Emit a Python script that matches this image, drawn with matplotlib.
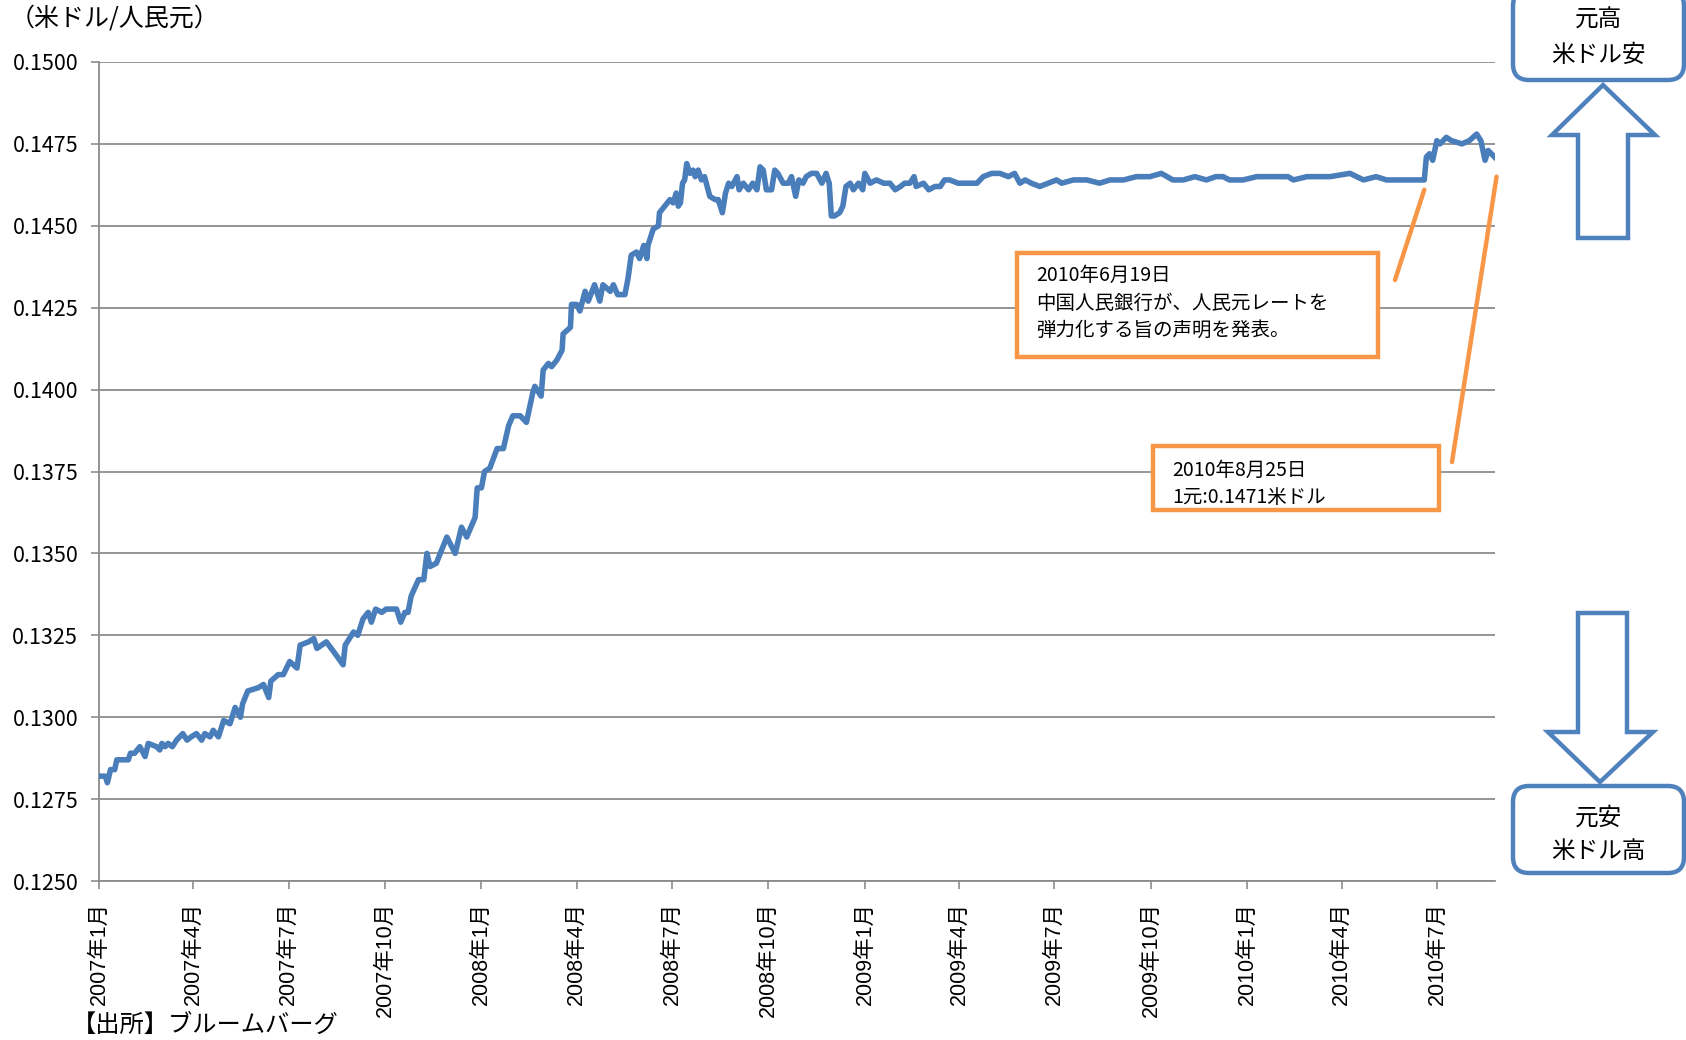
import numpy as np
import matplotlib
matplotlib.use("Agg")
import matplotlib.pyplot as plt
import matplotlib.dates as mdates
from matplotlib.patches import Rectangle, FancyBboxPatch, Polygon
from matplotlib.transforms import IdentityTransform

plt.rcParams['font.family'] = ['Noto Sans CJK JP', 'DejaVu Sans']

# USD per CNY, days counted from 2007-01-01
start = np.datetime64('2007-01-01')
day_offset = [
    0, 6, 8, 11, 15, 17, 20, 25, 28, 30,
    34, 39, 44, 47, 55, 58, 60, 63, 66, 70,
    74, 80, 84, 88, 93, 98, 101, 106, 109, 114,
    119, 125, 130, 135, 137, 142, 152, 157, 162, 164,
    171, 176, 182, 189, 192, 200, 205, 208, 217, 224,
    233, 235, 243, 247, 252, 257, 260, 264, 270, 274,
    281, 284, 288, 292, 295, 298, 305, 310, 313, 316,
    322, 332, 340, 346, 351, 359, 361, 365, 368, 373,
    380, 386, 391, 395, 402, 408, 414, 416, 422, 424,
    429, 432, 437, 442, 443, 450, 451, 456, 459, 464,
    467, 473, 478, 481, 488, 491, 495, 499, 502, 505,
    508, 513, 516, 520, 523, 524, 529, 534, 535, 540,
    545, 548, 551, 553, 555, 557, 559, 561, 564, 567,
    569, 572, 575, 578, 583, 588, 591, 595, 598, 601,
    604, 609, 611, 615, 620, 624, 628, 631, 634, 637,
    642, 645, 648, 653, 658, 661, 665, 668, 672, 675,
    680, 685, 690, 694, 697, 699, 702, 707, 710, 713,
    717, 720, 725, 729, 731, 736, 742, 749, 755, 760,
    765, 769, 774, 778, 780, 787, 792, 798, 803, 807,
    812, 820, 828, 838, 844, 852, 860, 868, 874, 879,
    884, 890, 898, 906, 914, 919, 930, 943, 955, 965,
    978, 990, 1003, 1014, 1025, 1035, 1046, 1057, 1066, 1073,
    1079, 1092, 1105, 1121, 1135, 1140, 1153, 1175, 1194, 1207,
    1219, 1229, 1243, 1253, 1262, 1265, 1267, 1270, 1273, 1277,
    1280, 1286, 1291, 1301, 1308, 1315, 1319, 1323, 1326, 1329,
    1332,
]
rate = [
    0.1282, 0.1282, 0.1280, 0.1284, 0.1284, 0.1287, 0.1287, 0.1287, 0.1287, 0.1289,
    0.1289, 0.1291, 0.1288, 0.1292, 0.1291, 0.1290, 0.1292, 0.1291, 0.1292, 0.1291,
    0.1293, 0.1295, 0.1293, 0.1294, 0.1295, 0.1293, 0.1295, 0.1294, 0.1296, 0.1294,
    0.1299, 0.1298, 0.1303, 0.1300, 0.1304, 0.1308, 0.1309, 0.1310, 0.1306, 0.1311,
    0.1313, 0.1313, 0.1317, 0.1315, 0.1322, 0.1323, 0.1324, 0.1321, 0.1323, 0.1320,
    0.1316, 0.1322, 0.1326, 0.1325, 0.1330, 0.1332, 0.1329, 0.1333, 0.1332, 0.1333,
    0.1333, 0.1333, 0.1329, 0.1332, 0.1332, 0.1337, 0.1342, 0.1342, 0.1350, 0.1346,
    0.1347, 0.1355, 0.1350, 0.1358, 0.1355, 0.1361, 0.1370, 0.1370, 0.1375, 0.1376,
    0.1382, 0.1382, 0.1389, 0.1392, 0.1392, 0.1390, 0.1399, 0.1401, 0.1398, 0.1406,
    0.1408, 0.1407, 0.1409, 0.1412, 0.1417, 0.1419, 0.1426, 0.1426, 0.1424, 0.1430,
    0.1427, 0.1432, 0.1427, 0.1432, 0.1430, 0.1432, 0.1429, 0.1429, 0.1429, 0.1434,
    0.1441, 0.1442, 0.1440, 0.1444, 0.1440, 0.1444, 0.1449, 0.1450, 0.1454, 0.1456,
    0.1458, 0.1457, 0.1460, 0.1456, 0.1457, 0.1463, 0.1464, 0.1469, 0.1466, 0.1467,
    0.1465, 0.1467, 0.1464, 0.1465, 0.1459, 0.1458, 0.1458, 0.1454, 0.1460, 0.1463,
    0.1462, 0.1465, 0.1461, 0.1463, 0.1461, 0.1463, 0.1461, 0.1468, 0.1467, 0.1461,
    0.1461, 0.1467, 0.1466, 0.1463, 0.1463, 0.1465, 0.1459, 0.1464, 0.1463, 0.1465,
    0.1466, 0.1466, 0.1463, 0.1466, 0.1463, 0.1453, 0.1453, 0.1454, 0.1456, 0.1462,
    0.1463, 0.1461, 0.1463, 0.1461, 0.1466, 0.1463, 0.1464, 0.1463, 0.1463, 0.1461,
    0.1462, 0.1463, 0.1463, 0.1465, 0.1462, 0.1463, 0.1461, 0.1462, 0.1462, 0.1464,
    0.1464, 0.1463, 0.1463, 0.1463, 0.1465, 0.1466, 0.1466, 0.1465, 0.1466, 0.1463,
    0.1464, 0.1463, 0.1462, 0.1463, 0.1464, 0.1463, 0.1464, 0.1464, 0.1463, 0.1464,
    0.1464, 0.1465, 0.1465, 0.1466, 0.1464, 0.1464, 0.1465, 0.1464, 0.1465, 0.1465,
    0.1464, 0.1464, 0.1465, 0.1465, 0.1465, 0.1464, 0.1465, 0.1465, 0.1466, 0.1464,
    0.1465, 0.1464, 0.1464, 0.1464, 0.1464, 0.1464, 0.1471, 0.1472, 0.1470, 0.1476,
    0.1475, 0.1477, 0.1476, 0.1475, 0.1476, 0.1478, 0.1476, 0.1470, 0.1473, 0.1472,
    0.1471,
]
assert len(day_offset) == len(rate)

tick_dates = ['2007-01-01', '2007-04-01', '2007-07-01', '2007-10-01',
              '2008-01-01', '2008-04-01', '2008-07-01', '2008-10-01',
              '2009-01-01', '2009-04-01', '2009-07-01', '2009-10-01',
              '2010-01-01', '2010-04-01', '2010-07-01']
tick_labels = ['2007年1月', '2007年4月', '2007年7月', '2007年10月',
               '2008年1月', '2008年4月', '2008年7月', '2008年10月',
               '2009年1月', '2009年4月', '2009年7月', '2009年10月',
               '2010年1月', '2010年4月', '2010年7月']
y_ticks = [0.1250, 0.1275, 0.1300, 0.1325, 0.1350, 0.1375,
           0.1400, 0.1425, 0.1450, 0.1475, 0.1500]

LINE = '#4A7EBB'
BLUE = '#4F81BD'
ORANGE = '#F79646'
GRID = '#8C8C8C'

W, H = 1686, 1040
fig = plt.figure(figsize=(W / 100, H / 100), dpi=100)
ax = fig.add_axes([99 / W, 1 - 881 / H, (1495 - 99) / W, (881 - 62) / H])

dates = start + np.array(day_offset).astype('timedelta64[D]')
ax.plot(dates, rate, color=LINE, lw=4, solid_joinstyle='round', zorder=3)

x0 = mdates.date2num(start)
ax.set_xlim(x0, x0 + 1332.5)
ax.set_ylim(0.125, 0.150)
ax.set_yticks(y_ticks)
ax.set_yticklabels([f'{v:.4f}' for v in y_ticks], fontsize=15.5)
ax.set_xticks([mdates.date2num(np.datetime64(d)) for d in tick_dates])
ax.set_xticklabels(tick_labels, rotation=90, fontsize=15.5,
                   family=['Liberation Sans', 'Noto Sans CJK JP'])

ax.grid(axis='y', color=GRID, lw=1.3)
ax.set_axisbelow(True)
for s in ['top', 'right']:
    ax.spines[s].set_visible(False)
for s in ['left', 'bottom']:
    ax.spines[s].set_color(GRID)
    ax.spines[s].set_linewidth(1.3)
ax.tick_params(axis='both', direction='out', length=6, width=1.2, color=GRID)
ax.tick_params(axis='y', pad=9)
ax.tick_params(axis='x', pad=9)


def fx(px):
    return px / W


def fy(py):
    return 1 - py / H


fig.text(fx(10), fy(19), '（米ドル/人民元）', ha='left', va='center', fontsize=18)
fig.text(fx(72), fy(1025), '【出所】ブルームバーグ', ha='left', va='center', fontsize=17.5)

# note boxes
for (l, t, r, b) in [(1017, 253, 1378, 357), (1153, 446, 1439, 510)]:
    fig.add_artist(Rectangle((l, H - b), r - l, b - t, transform=IdentityTransform(),
                             facecolor='white', edgecolor=ORANGE, lw=3.2, zorder=5))
for y, s in [(275, '2010年6月19日'), (303, '中国人民銀行が、人民元レートを'),
             (330, '弾力化する旨の声明を発表。')]:
    fig.text(fx(1036), fy(y), s, ha='left', va='center', fontsize=14, zorder=6)
for y, s in [(470, '2010年8月25日'), (497, '1元:0.1471米ドル')]:
    fig.text(fx(1172), fy(y), s, ha='left', va='center', fontsize=14, zorder=6)

ax.annotate('', xy=(mdates.date2num(np.datetime64('2010-06-19')), 0.1461), xycoords='data',
            xytext=(1395, H - 280), textcoords='figure pixels',
            arrowprops=dict(arrowstyle='-', color=ORANGE, lw=3.2, shrinkA=0, shrinkB=0),
            annotation_clip=False)
ax.annotate('', xy=(mdates.date2num(np.datetime64('2010-08-27')), 0.1465), xycoords='data',
            xytext=(1452, H - 462), textcoords='figure pixels',
            arrowprops=dict(arrowstyle='-', color=ORANGE, lw=3.2, shrinkA=0, shrinkB=0),
            annotation_clip=False)

# direction boxes and arrows on the right
for (l, t, r, b) in [(1513, -10, 1684, 80), (1513, 786, 1684, 873)]:
    fig.add_artist(FancyBboxPatch((l, H - b), r - l, b - t,
                                  boxstyle='round,pad=0,rounding_size=16',
                                  transform=IdentityTransform(), facecolor='white',
                                  edgecolor=BLUE, lw=3.2))
fig.text(fx(1598), fy(20), '元高', ha='center', va='center', fontsize=17)
fig.text(fx(1598), fy(55), '米ドル安', ha='center', va='center', fontsize=17)
fig.text(fx(1598), fy(818), '元安', ha='center', va='center', fontsize=17)
fig.text(fx(1598), fy(852), '米ドル高', ha='center', va='center', fontsize=17)

up = [(1603, 85), (1655, 135), (1628, 135), (1628, 238), (1578, 238), (1578, 135), (1552, 135)]
down = [(1578, 613), (1627, 613), (1627, 732), (1653, 732), (1600, 782), (1548, 732), (1578, 732)]
for pts in (up, down):
    fig.add_artist(Polygon([(x, H - y) for x, y in pts], closed=True,
                           transform=IdentityTransform(), facecolor='white',
                           edgecolor=BLUE, lw=3.2, joinstyle='miter'))

fig.savefig('out.png', dpi=100)
